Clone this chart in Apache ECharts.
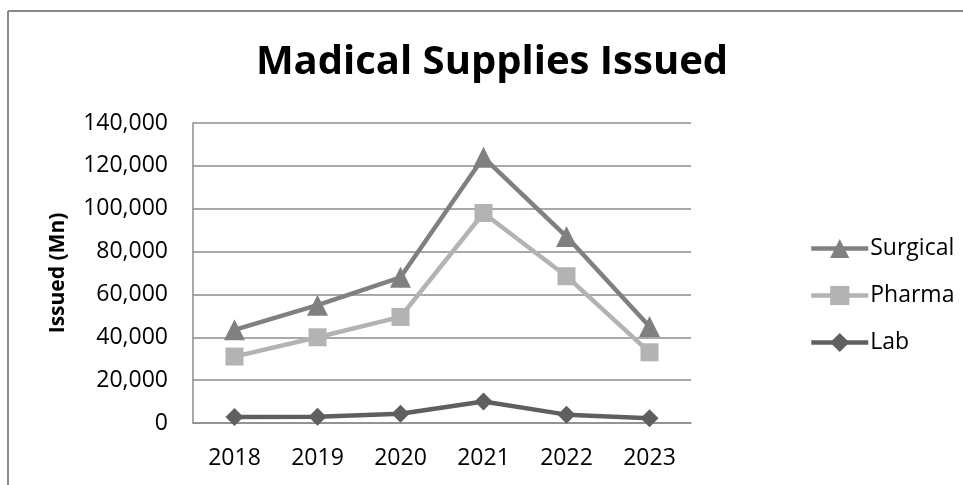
<!DOCTYPE html>
<html>
<head>
<meta charset="utf-8">
<script src="https://cdn.jsdelivr.net/npm/echarts@6/dist/echarts.min.js"></script>
<style>
  html, body { margin: 0; padding: 0; background: #fff; }
  #chart { width: 963px; height: 485px; }
</style>
</head>
<body>
<div id="chart"></div>
<script>
const years = ['2018', '2019', '2020', '2021', '2022', '2023']
const surgical = [43500, 55000, 68000, 124000, 87000, 45000]
const pharma = [31000, 40000, 49500, 98000, 68500, 33000]
const lab = [2800, 2900, 4300, 10000, 3900, 2200]
const yTicks = { min: 0, max: 140000, interval: 20000 }

const COLORS = {
  surgical: '#808080',
  pharma:   '#b3b3b3',
  lab:      '#5f5f5f',
  grid:     '#8c8c8c',
  frame:    '#8a8a8a',
}
const FONT = '"Open Sans", "Noto Sans", sans-serif'

function lineSeries(name, data, color, symbol, size) {
  return {
    name, type: 'line', data,
    symbol, symbolSize: size,
    lineStyle: { color, width: 4.5 },
    itemStyle: { color },
    emphasis: { disabled: true },
    animation: false,
  }
}

const chart = echarts.init(document.getElementById('chart'), null, { renderer: 'canvas' })
chart.setOption({
  backgroundColor: '#fff',
  textStyle: { fontFamily: FONT, color: '#000' },
  title: {
    text: 'Madical Supplies Issued',
    left: 487, top: 38, textAlign: 'center',
    textStyle: { fontFamily: FONT, fontSize: 40, fontWeight: 'bold', color: '#000' },
  },
  legend: {
    orient: 'vertical',
    left: 804, top: 232,
    itemWidth: 57, itemHeight: 24, itemGap: 24,
    lineStyle: { width: 4.5 },
    textStyle: { fontFamily: FONT, fontSize: 23, color: '#000', padding: [0, 0, 0, -3] },
    data: ['Surgical', 'Pharma', 'Lab'],
  },
  grid: { left: 193, right: 272, top: 123, bottom: 62, containLabel: false },
  xAxis: {
    type: 'category', data: years,
    axisLine: { lineStyle: { color: COLORS.grid, width: 1.5 } },
    axisTick: { show: false },
    axisLabel: { fontFamily: FONT, fontSize: 23, color: '#000', margin: 24 },
  },
  yAxis: {
    type: 'value', ...yTicks,
    name: 'Issued (Mn)', nameLocation: 'middle', nameGap: 124,
    nameTextStyle: { fontFamily: FONT, fontSize: 21, fontWeight: 'bold', color: '#000' },
    axisLine: { show: true, lineStyle: { color: COLORS.grid, width: 1.5 } },
    axisTick: { show: false },
    splitLine: { lineStyle: { color: COLORS.grid, width: 1.5 } },
    axisLabel: {
      fontFamily: FONT, fontSize: 23, color: '#000', margin: 25,
      formatter: v => v.toLocaleString('en-US'),
    },
  },
  graphic: [
    { type: 'line', shape: { x1: 8, y1: 11, x2: 963, y2: 11 }, style: { stroke: COLORS.frame, lineWidth: 2 }, silent: true },
    { type: 'line', shape: { x1: 8, y1: 11, x2: 8, y2: 485 }, style: { stroke: COLORS.frame, lineWidth: 2 }, silent: true },
  ],
  series: [
    lineSeries('Surgical', surgical, COLORS.surgical, 'triangle', 21),
    lineSeries('Pharma', pharma, COLORS.pharma, 'rect', 18),
    lineSeries('Lab', lab, COLORS.lab, 'diamond', 18),
  ],
})
</script>
</body>
</html>
